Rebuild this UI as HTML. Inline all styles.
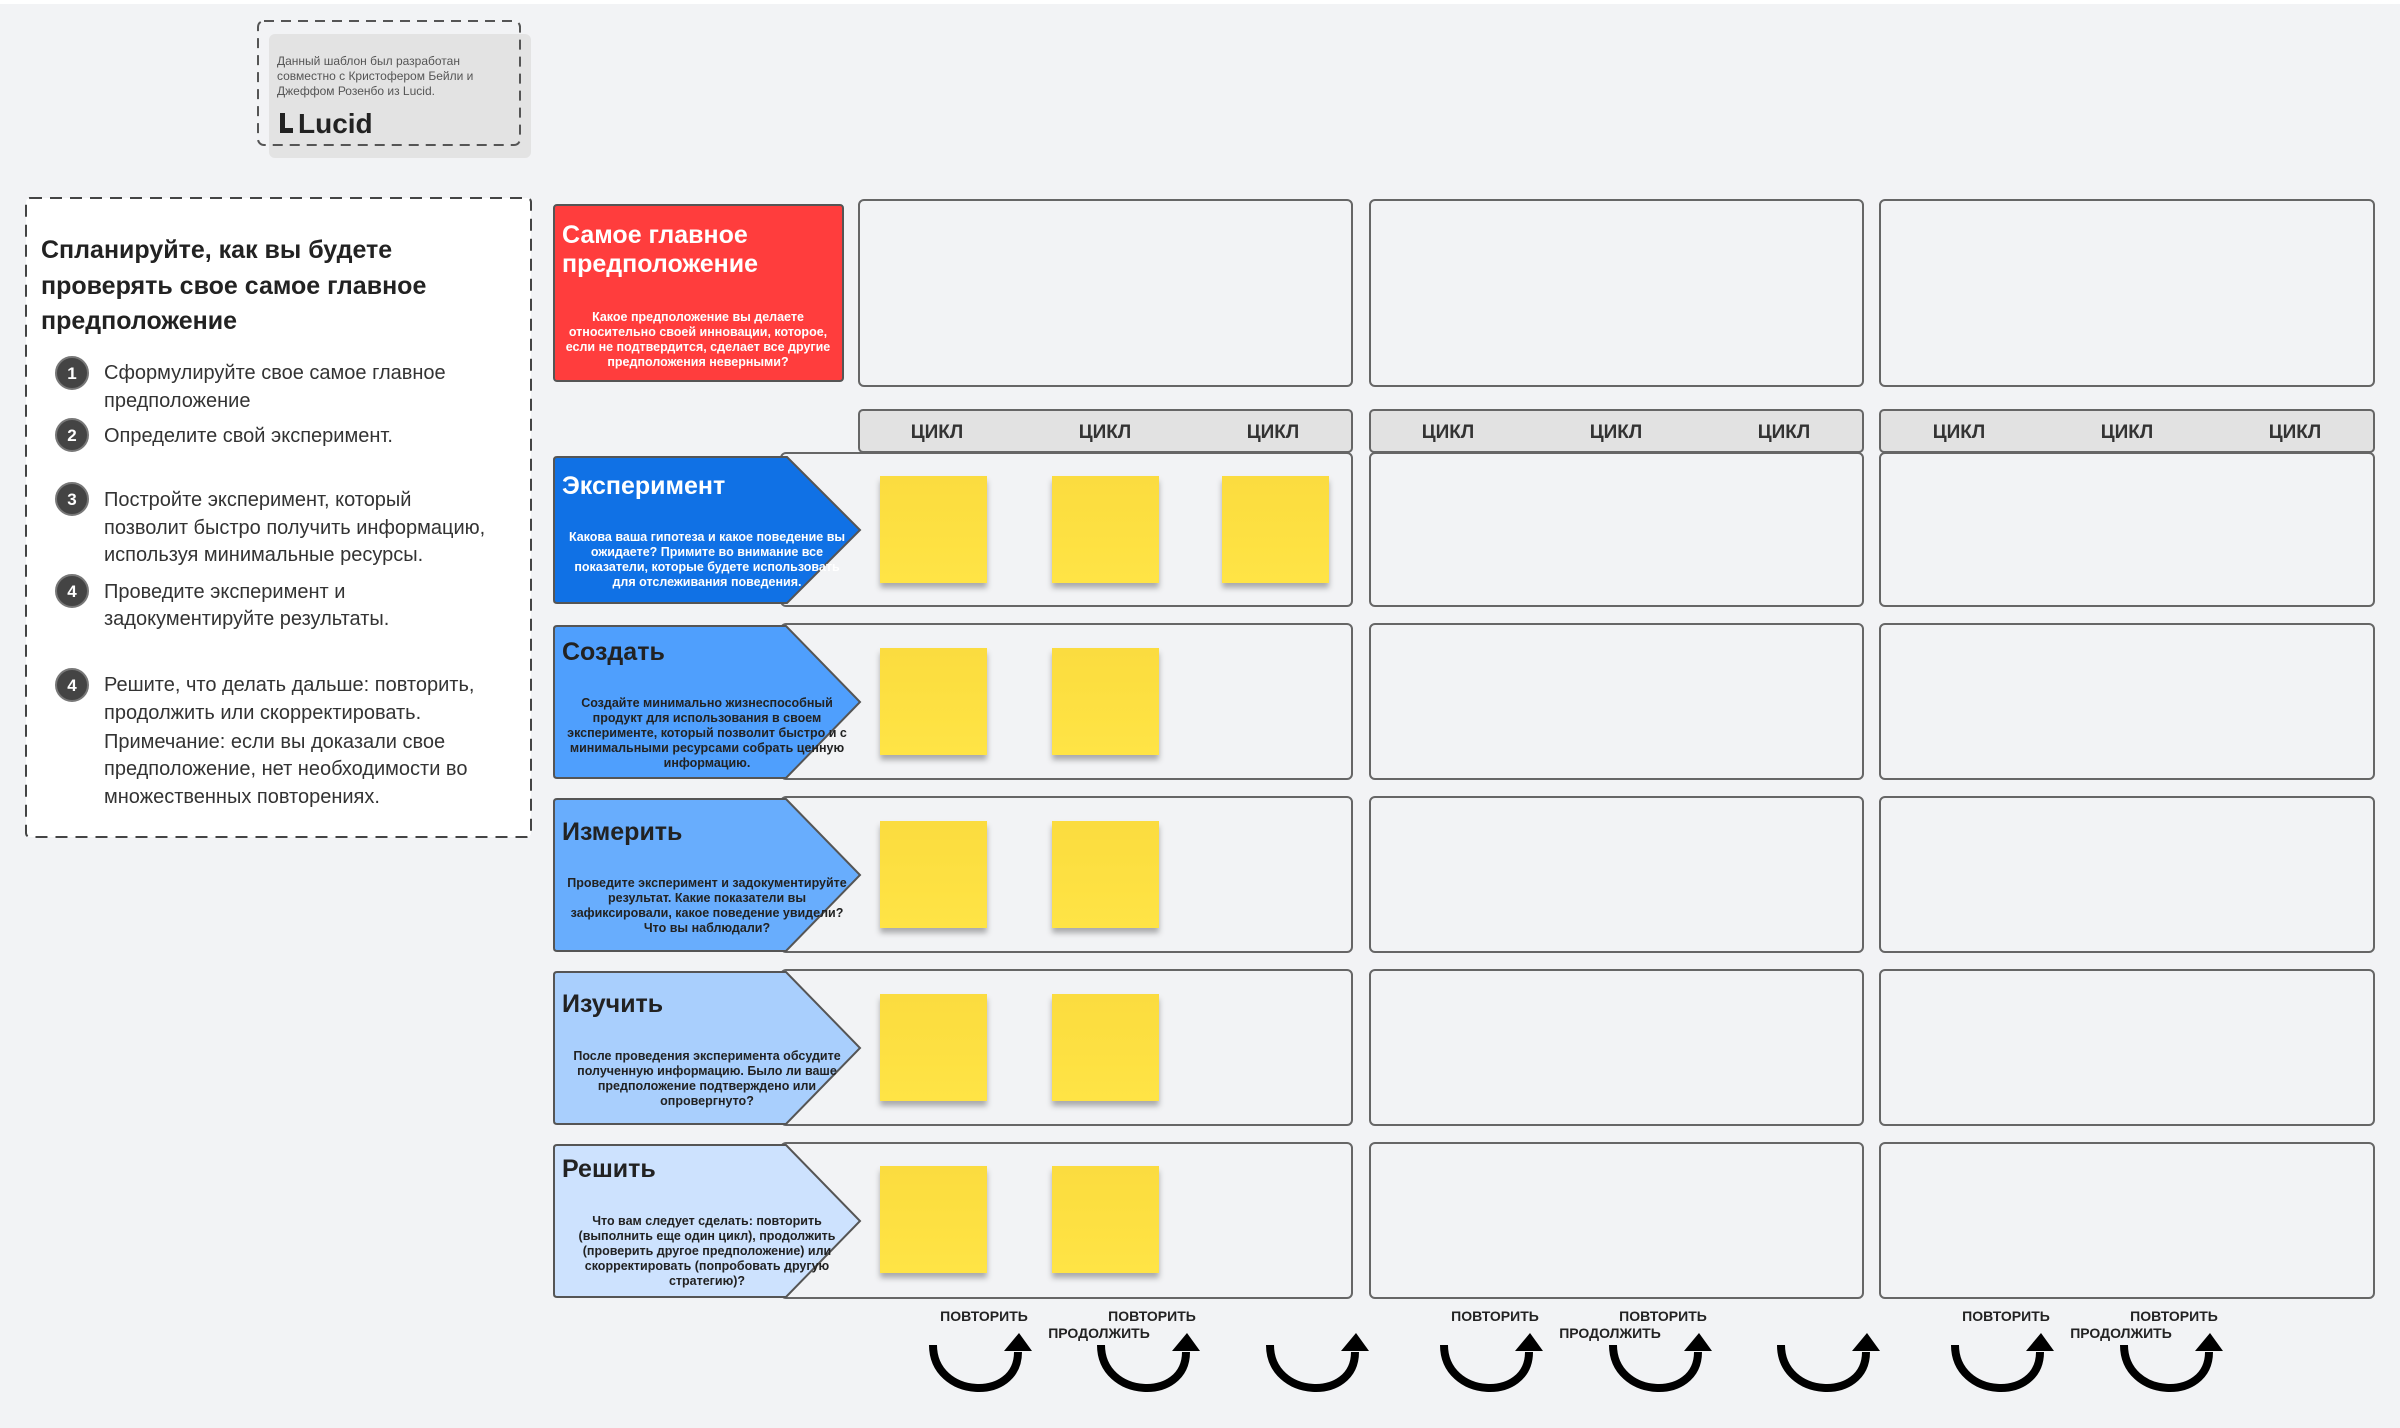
<!DOCTYPE html>
<html><head><meta charset="utf-8"><style>
html,body{margin:0;padding:0;background:#f2f3f5}
svg{display:block}
text{font-family:"Liberation Sans","Noto Sans CJK SC",sans-serif}
</style></head><body>
<svg width="2400" height="1428" viewBox="0 0 2400 1428" xmlns="http://www.w3.org/2000/svg">
<defs>
<linearGradient id="st" x1="0" y1="0" x2="0" y2="1"><stop offset="0" stop-color="#fbdc3f"/><stop offset="1" stop-color="#ffe445"/></linearGradient>
<filter id="sh" x="-20%" y="-20%" width="140%" height="150%"><feDropShadow dx="0" dy="5" stdDeviation="3" flood-color="#000" flood-opacity="0.3"/></filter>
<g id="loop">
<path d="M0,12 C0,66 85,70 85,19" fill="none" stroke="#000" stroke-width="8"/>
<polygon points="71,18 99,18 86,0" fill="#000"/>
</g>
</defs>
<rect x="0" y="0" width="2400" height="4" fill="#fff"/>

<!-- credit -->
<rect x="269" y="34" width="262" height="124" rx="6" fill="#e3e3e3"/>
<rect x="258" y="21" width="262" height="124" rx="6" fill="none" stroke="#555" stroke-width="2" stroke-dasharray="10,7"/>
<g fill="#555" font-size="12"><text x="277" y="65">Данный шаблон был разработан</text><text x="277" y="80">совместно с Кристофером Бейли и</text><text x="277" y="95">Джеффом Розенбо из Lucid.</text></g>
<path d="M280,113 h5 v15 h8 v5 h-13z" fill="#222"/>
<text x="298" y="133" font-size="28" font-weight="bold" fill="#222">Lucid</text>

<!-- left instructions -->
<rect x="26" y="198" width="505" height="639" rx="4" fill="#fff" stroke="#444" stroke-width="2" stroke-dasharray="12,8"/>
<g font-size="25" font-weight="bold" fill="#222"><text x="41" y="258">Спланируйте, как вы будете</text><text x="41" y="294">проверять свое самое главное</text><text x="41" y="329">предположение</text></g>
<g font-size="20" fill="#333">
<text x="104" y="379">Сформулируйте свое самое главное</text><text x="104" y="407">предположение</text>
<text x="104" y="442">Определите свой эксперимент.</text>
<text x="104" y="506">Постройте эксперимент, который</text><text x="104" y="534">позволит быстро получить информацию,</text><text x="104" y="561">используя минимальные ресурсы.</text>
<text x="104" y="598">Проведите эксперимент и</text><text x="104" y="625">задокументируйте результаты.</text>
<text x="104" y="691">Решите, что делать дальше: повторить,</text><text x="104" y="719">продолжить или скорректировать.</text><text x="104" y="748">Примечание: если вы доказали свое</text><text x="104" y="775">предположение, нет необходимости во</text><text x="104" y="803">множественных повторениях.</text>
</g>
<g fill="#444" stroke="#777" stroke-width="2">
<circle cx="72" cy="373" r="16"/><circle cx="72" cy="435" r="16"/><circle cx="72" cy="499" r="16"/><circle cx="72" cy="591" r="16"/><circle cx="72" cy="685" r="16"/></g>
<g fill="#fff" font-size="17" font-weight="bold" text-anchor="middle">
<text x="72" y="379">1</text><text x="72" y="441">2</text><text x="72" y="505">3</text><text x="72" y="597">4</text><text x="72" y="691">4</text></g>

<!-- red box -->
<rect x="554" y="205" width="289" height="176" rx="3" fill="#ff3d3d" stroke="#555" stroke-width="2"/>
<g font-size="25" font-weight="bold" fill="#fff"><text x="562" y="243">Самое главное</text><text x="562" y="272">предположение</text></g>
<g font-size="12.5" font-weight="bold" fill="#fff" text-anchor="middle"><text x="698" y="321">Какое предположение вы делаете</text><text x="698" y="336">относительно своей инновации, которое,</text><text x="698" y="351">если не подтвердится, сделает все другие</text><text x="698" y="366">предположения неверными?</text></g>

<g fill="#f2f3f5" stroke="#666" stroke-width="2">
<rect x="859" y="200" width="493" height="186" rx="5"/><rect x="1370" y="200" width="493" height="186" rx="5"/><rect x="1880" y="200" width="494" height="186" rx="5"/>
<rect x="859" y="410" width="493" height="42" rx="4" fill="#e2e2e2"/><rect x="1370" y="410" width="493" height="42" rx="4" fill="#e2e2e2"/><rect x="1880" y="410" width="494" height="42" rx="4" fill="#e2e2e2"/>
<rect x="781" y="453" width="571" height="153" rx="5"/><rect x="1370" y="453" width="493" height="153" rx="5"/><rect x="1880" y="453" width="494" height="153" rx="5"/>
<rect x="781" y="624" width="571" height="155" rx="5"/><rect x="1370" y="624" width="493" height="155" rx="5"/><rect x="1880" y="624" width="494" height="155" rx="5"/>
<rect x="781" y="797" width="571" height="155" rx="5"/><rect x="1370" y="797" width="493" height="155" rx="5"/><rect x="1880" y="797" width="494" height="155" rx="5"/>
<rect x="781" y="970" width="571" height="155" rx="5"/><rect x="1370" y="970" width="493" height="155" rx="5"/><rect x="1880" y="970" width="494" height="155" rx="5"/>
<rect x="781" y="1143" width="571" height="155" rx="5"/><rect x="1370" y="1143" width="493" height="155" rx="5"/><rect x="1880" y="1143" width="494" height="155" rx="5"/>
</g>
<g font-size="19" font-weight="bold" fill="#333" text-anchor="middle">
<text x="937" y="438">ЦИКЛ</text><text x="1105" y="438">ЦИКЛ</text><text x="1273" y="438">ЦИКЛ</text>
<text x="1448" y="438">ЦИКЛ</text><text x="1616" y="438">ЦИКЛ</text><text x="1784" y="438">ЦИКЛ</text>
<text x="1959" y="438">ЦИКЛ</text><text x="2127" y="438">ЦИКЛ</text><text x="2295" y="438">ЦИКЛ</text>
</g>

<g stroke="#555" stroke-width="2">
<path d="M557,457 H787 L860,530 L787,603 H557 Q554,603 554,600 V460 Q554,457 557,457Z" fill="#1071e5"/>
<path d="M557,626 H786 L860,702 L786,778 H557 Q554,778 554,775 V629 Q554,626 557,626Z" fill="#4f9ffd"/>
<path d="M557,799 H786 L860,875 L786,951 H557 Q554,951 554,948 V802 Q554,799 557,799Z" fill="#68adfd"/>
<path d="M557,972 H786 L860,1048 L786,1124 H557 Q554,1124 554,1121 V975 Q554,972 557,972Z" fill="#a9cffd"/>
<path d="M557,1145 H786 L860,1221 L786,1297 H557 Q554,1297 554,1294 V1148 Q554,1145 557,1145Z" fill="#cde2fe"/>
</g>
<g font-size="25" font-weight="bold">
<text x="562" y="494" fill="#fff">Эксперимент</text>
<text x="562" y="660" fill="#222">Создать</text>
<text x="562" y="840" fill="#222">Измерить</text>
<text x="562" y="1012" fill="#222">Изучить</text>
<text x="562" y="1177" fill="#222">Решить</text>
</g>
<g font-size="12.5" font-weight="bold" text-anchor="middle">
<g fill="#fff"><text x="707" y="541">Какова ваша гипотеза и какое поведение вы</text><text x="707" y="556">ожидаете? Примите во внимание все</text><text x="707" y="571">показатели, которые будете использовать</text><text x="707" y="586">для отслеживания поведения.</text></g>
<g fill="#222">
<text x="707" y="707">Создайте минимально жизнеспособный</text><text x="707" y="722">продукт для использования в своем</text><text x="707" y="737">эксперименте, который позволит быстро и с</text><text x="707" y="752">минимальными ресурсами собрать ценную</text><text x="707" y="767">информацию.</text>
<text x="707" y="887">Проведите эксперимент и задокументируйте</text><text x="707" y="902">результат. Какие показатели вы</text><text x="707" y="917">зафиксировали, какое поведение увидели?</text><text x="707" y="932">Что вы наблюдали?</text>
<text x="707" y="1060">После проведения эксперимента обсудите</text><text x="707" y="1075">полученную информацию. Было ли ваше</text><text x="707" y="1090">предположение подтверждено или</text><text x="707" y="1105">опровергнуто?</text>
<text x="707" y="1225">Что вам следует сделать: повторить</text><text x="707" y="1240">(выполнить еще один цикл), продолжить</text><text x="707" y="1255">(проверить другое предположение) или</text><text x="707" y="1270">скорректировать (попробовать другую</text><text x="707" y="1285">стратегию)?</text>
</g></g>

<g fill="url(#st)" filter="url(#sh)">
<rect x="880" y="476" width="107" height="107"/><rect x="1052" y="476" width="107" height="107"/><rect x="1222" y="476" width="107" height="107"/>
<rect x="880" y="648" width="107" height="107"/><rect x="1052" y="648" width="107" height="107"/>
<rect x="880" y="821" width="107" height="107"/><rect x="1052" y="821" width="107" height="107"/>
<rect x="880" y="994" width="107" height="107"/><rect x="1052" y="994" width="107" height="107"/>
<rect x="880" y="1166" width="107" height="107"/><rect x="1052" y="1166" width="107" height="107"/>
</g>

<g transform="translate(933,1333)">
<use href="#loop" x="0"/><use href="#loop" x="168"/><use href="#loop" x="337"/>
<use href="#loop" x="511"/><use href="#loop" x="680"/><use href="#loop" x="848"/>
<use href="#loop" x="1022"/><use href="#loop" x="1191"/>
</g>
<g font-size="14" font-weight="bold" fill="#222" text-anchor="middle">
<text x="984" y="1321">ПОВТОРИТЬ</text><text x="1152" y="1321">ПОВТОРИТЬ</text><text x="1099" y="1338">ПРОДОЛЖИТЬ</text>
<text x="1495" y="1321">ПОВТОРИТЬ</text><text x="1663" y="1321">ПОВТОРИТЬ</text><text x="1610" y="1338">ПРОДОЛЖИТЬ</text>
<text x="2006" y="1321">ПОВТОРИТЬ</text><text x="2174" y="1321">ПОВТОРИТЬ</text><text x="2121" y="1338">ПРОДОЛЖИТЬ</text>
</g>
</svg>
</body></html>
